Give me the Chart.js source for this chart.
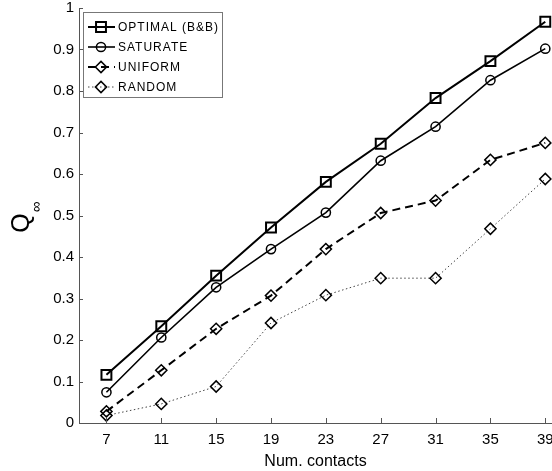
<!DOCTYPE html>
<html>
<head>
<meta charset="utf-8">
<script src="https://cdn.jsdelivr.net/npm/chart.js@4"></script>
<style>
  html, body { margin: 0; padding: 0; background: #fff; overflow: hidden; }
  #wrap { width: 552px; height: 471px; position: relative; }
  canvas { display: block; }
</style>
</head>
<body>
<div id="wrap"><canvas id="chart"></canvas></div>
<script>
// data
const contacts = [7, 11, 15, 19, 23, 27, 31, 35, 39];
const optimal = [0.116, 0.233, 0.355, 0.471, 0.581, 0.673, 0.783, 0.872, 0.967];
const saturate = [0.074, 0.206, 0.327, 0.419, 0.507, 0.632, 0.714, 0.826, 0.902];
const uniform = [0.028, 0.127, 0.227, 0.307, 0.419, 0.506, 0.536, 0.634, 0.675];
const random = [0.018, 0.046, 0.088, 0.241, 0.308, 0.349, 0.349, 0.468, 0.588];
const seriesNames = ['OPTIMAL (B&B)', 'SATURATE', 'UNIFORM', 'RANDOM'];
const yTicks = [0, 0.1, 0.2, 0.3, 0.4, 0.5, 0.6, 0.7, 0.8, 0.9, 1];

const FONT = '"Liberation Sans", Arial, Helvetica, sans-serif';
const AXIS = '#555';

function toPoints(values) {
    return contacts.map((c, i) => ({ x: c, y: values[i] }));
}

// MATLAB style bits: inward ticks, boxed legend, Q with subscript infinity
const matlabBits = {
    id: 'matlabBits',
    afterDraw(chart) {
        const ctx = chart.ctx;
        const area = chart.chartArea;
        const xs = chart.scales.x;
        const ys = chart.scales.y;

        ctx.save();
        ctx.strokeStyle = AXIS;
        ctx.lineWidth = 1;
        ctx.beginPath();
        yTicks.forEach(v => {
            const py = Math.round(ys.getPixelForValue(v)) + 0.5;
            ctx.moveTo(area.left, py);
            ctx.lineTo(area.left + 4, py);
        });
        contacts.forEach(v => {
            const px = Math.round(xs.getPixelForValue(v)) + 0.5;
            ctx.moveTo(px, area.bottom);
            ctx.lineTo(px, area.bottom - 5);
        });
        ctx.stroke();
        ctx.restore();

        // legend box
        const bx = area.left + 4, by = area.top + 4, bw = 139, bh = 85;
        ctx.save();
        ctx.fillStyle = '#fff';
        ctx.fillRect(bx, by, bw, bh);
        ctx.strokeStyle = '#777';
        ctx.lineWidth = 1;
        ctx.strokeRect(bx + 0.5, by + 0.5, bw, bh);
        ctx.font = '12px ' + FONT;
        ctx.textBaseline = 'middle';
        ctx.fillStyle = '#000';
        if ('letterSpacing' in ctx) ctx.letterSpacing = '1px';
        chart.data.datasets.forEach((ds, i) => {
            const ly = by + 15 + i * 20;
            ctx.save();
            ctx.strokeStyle = ds.borderColor;
            ctx.lineWidth = ds.borderWidth;
            ctx.setLineDash(ds.borderDash || []);
            ctx.beginPath();
            ctx.moveTo(bx + 5, ly);
            ctx.lineTo(bx + 32, ly);
            ctx.stroke();
            ctx.setLineDash([]);
            ctx.fillStyle = 'rgba(0,0,0,0)';
            ctx.strokeStyle = ds.pointBorderColor;
            ctx.lineWidth = ds.pointBorderWidth;
            Chart.helpers.drawPoint(ctx, {
                pointStyle: ds.pointStyle,
                radius: ds.pointRadius,
                borderWidth: ds.pointBorderWidth,
                rotation: 0
            }, bx + 18, ly);
            ctx.restore();
            ctx.fillText(ds.label, bx + 35, ly + 1);
        });
        ctx.restore();

        // y axis label
        ctx.save();
        ctx.translate(22, 223);
        ctx.rotate(-Math.PI / 2);
        ctx.fillStyle = '#000';
        ctx.textAlign = 'center';
        ctx.textBaseline = 'middle';
        ctx.font = '25px ' + FONT;
        ctx.fillText('Q', 0, 0);
        ctx.font = '15px ' + FONT;
        ctx.fillText('\u221E', 16, 15);
        ctx.restore();
    }
};

const ctx = document.getElementById('chart').getContext('2d');
new Chart(ctx, {
    type: 'line',
    data: {
        datasets: [
            {
                label: seriesNames[0],
                data: toPoints(optimal),
                borderColor: '#000',
                borderWidth: 2,
                pointStyle: 'rect',
                pointRadius: 7,
                pointBorderWidth: 2,
                pointBorderColor: '#000',
                pointBackgroundColor: 'rgba(0,0,0,0)'
            },
            {
                label: seriesNames[1],
                data: toPoints(saturate),
                borderColor: '#000',
                borderWidth: 1.6,
                pointStyle: 'circle',
                pointRadius: 4.6,
                pointBorderWidth: 1.5,
                pointBorderColor: '#000',
                pointBackgroundColor: 'rgba(0,0,0,0)'
            },
            {
                label: seriesNames[2],
                data: toPoints(uniform),
                borderColor: '#000',
                borderWidth: 2,
                borderDash: [8, 5],
                pointStyle: 'rectRot',
                pointRadius: 5.6,
                pointBorderWidth: 1.5,
                pointBorderColor: '#000',
                pointBackgroundColor: 'rgba(0,0,0,0)'
            },
            {
                label: seriesNames[3],
                data: toPoints(random),
                borderColor: '#444',
                borderWidth: 1,
                borderDash: [1.5, 2.5],
                pointStyle: 'rectRot',
                pointRadius: 5.6,
                pointBorderWidth: 1.5,
                pointBorderColor: '#000',
                pointBackgroundColor: 'rgba(0,0,0,0)'
            }
        ]
    },
    options: {
        responsive: true,
        maintainAspectRatio: false,
        devicePixelRatio: 1,
        animation: false,
        layout: { autoPadding: false, padding: { top: 8, right: 0, bottom: 0, left: 0 } },
        elements: { line: { tension: 0 } },
        datasets: { line: { clip: false } },
        plugins: {
            legend: { display: false },
            tooltip: { enabled: false }
        },
        scales: {
            x: {
                type: 'linear',
                min: 5,
                max: 39.49,
                afterBuildTicks: scale => {
                    scale.ticks = contacts.map(v => ({ value: v }));
                },
                afterFit: scale => {
                    scale.height = 48;
                    scale.paddingLeft = 0;
                    scale.paddingRight = 0;
                },
                grid: { display: false, drawTicks: false },
                border: { display: true, color: AXIS, width: 1 },
                ticks: {
                    color: '#000',
                    padding: 8,
                    maxRotation: 0,
                    autoSkip: false,
                    font: { family: FONT, size: 15 }
                },
                title: {
                    display: true,
                    text: 'Num. contacts',
                    color: '#000',
                    padding: 0,
                    font: { family: FONT, size: 16 }
                }
            },
            y: {
                min: 0,
                max: 1,
                afterBuildTicks: scale => {
                    scale.ticks = yTicks.map(v => ({ value: v }));
                },
                afterFit: scale => {
                    scale.width = 79;
                    scale.paddingTop = 0;
                    scale.paddingBottom = 0;
                },
                grid: { display: false, drawTicks: false },
                border: { display: true, color: AXIS, width: 1 },
                ticks: {
                    color: '#000',
                    padding: 5,
                    autoSkip: false,
                    font: { family: FONT, size: 15 },
                    callback: v => String(Math.round(v * 10) / 10)
                }
            }
        }
    },
    plugins: [matlabBits]
});
</script>
</body>
</html>
